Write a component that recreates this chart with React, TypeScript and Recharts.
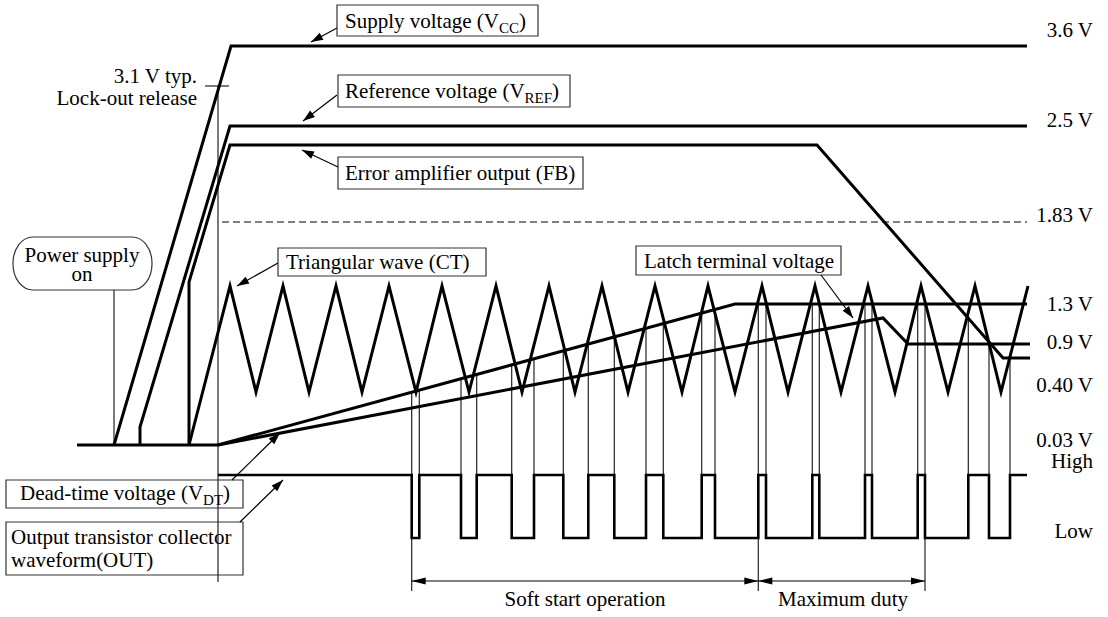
import { ComposedChart, Line, XAxis, YAxis, ReferenceLine, ReferenceArea, ReferenceDot } from "recharts";

const FONT = '"Liberation Serif", "Times New Roman", serif';

// Timing diagram: t = position along the time axis, v = level on the drawing (top = 0)
const groundT = [77, 218];
const groundV = [445, 445];

const vccT = [114, 231, 1027];
const vccV = [445, 46, 46];

const vrefT = [140, 140, 230, 1027];
const vrefV = [445, 427, 126, 126];

const fbT = [189, 189, 230, 817, 1003, 1030];
const fbV = [445, 282, 145, 145, 358, 358];

const ctT = [189, 230, 256, 283, 309, 336, 362, 389, 416, 442, 469, 496, 522, 549, 575, 602, 628, 655, 682, 708, 735, 762, 788, 815, 841, 868, 895, 921, 948, 975, 1001, 1028];
const ctV = [445, 286, 392, 286, 392, 286, 392, 286, 392, 286, 392, 286, 392, 286, 392, 286, 392, 286, 392, 286, 392, 286, 392, 286, 392, 286, 392, 286, 392, 286, 392, 286];

const dtT = [218, 735, 1027];
const dtV = [445, 304, 304];

const latchT = [218, 883, 908, 1030];
const latchV = [445, 318, 344, 344];

const outT = [218, 411.7, 419.3, 461, 476.7, 511.7, 534, 563.3, 588.3, 614.3, 646, 663.3, 701.7, 715, 758.3, 766, 812.3, 819.3, 865, 872, 917.7, 925, 968.3, 989, 1010, 1027];
const outState = ["H", "L", "H", "L", "H", "L", "H", "L", "H", "L", "H", "L", "H", "L", "H", "L", "H", "L", "H", "L", "H", "L", "H", "L", "H", "H"];
const outLevel: Record<string, number> = { H: 475, L: 538 };
// where each switching edge meets the compared voltage
const edgeTop = [392, 390, 379, 375, 365, 359, 351, 345, 338, 329, 324, 314, 310, 304, 304, 304, 304, 304, 304, 304, 304, 318, 342, 358];
const markerEdges = [411.7, 758.3, 925];

const levelLabels = ["3.6 V", "2.5 V", "1.83 V", "1.3 V", "0.9 V", "0.40 V", "0.03 V", "High", "Low"];
const levelLabelV = [37, 127, 222, 311, 349, 392, 447, 468, 538];

const pts = (t: number[], v: number[]) => t.map((x, i) => ({ x, y: v[i] }));

function arrowShape(both: boolean, head = 12, half = 4) {
  return (p: any) => {
    const { x1, y1, x2, y2 } = p;
    const a = Math.atan2(y2 - y1, x2 - x1);
    const tip = (x: number, y: number, ang: number) => {
      const bx = x - head * Math.cos(ang);
      const by = y - head * Math.sin(ang);
      const nx = -Math.sin(ang) * half;
      const ny = Math.cos(ang) * half;
      return `${x},${y} ${bx + nx},${by + ny} ${bx - nx},${by - ny}`;
    };
    return (
      <g>
        <line x1={x1} y1={y1} x2={x2} y2={y2} stroke="#000" strokeWidth={1.2} />
        <polygon points={tip(x2, y2, a)} fill="#000" />
        {both && <polygon points={tip(x1, y1, a + Math.PI)} fill="#000" />}
      </g>
    );
  };
}

const txt = { fontFamily: FONT, fontSize: 21, fill: "#000" };

function Sub({ main, sub }: { main: string; sub: string }) {
  return (
    <>
      <tspan>{main}</tspan>
      <tspan fontSize={15} dy={5}>{sub}</tspan>
      <tspan dy={-5}>)</tspan>
    </>
  );
}

export default function App() {
  const thick = { stroke: "#000", strokeWidth: 3, dot: false, activeDot: false, isAnimationActive: false, strokeLinejoin: "miter" as const, strokeMiterlimit: 10 };
  const thin = { stroke: "#222", strokeWidth: 1.2 };

  const note = (x: number, y: number, content: any, anchor: "start" | "middle" | "end" = "start") => (
    <ReferenceDot
      key={`n-${x}-${y}`}
      x={x}
      y={y}
      r={0}
      shape={(p: any) => (
        <text x={p.cx} y={p.cy} textAnchor={anchor} {...txt}>
          {content}
        </text>
      )}
    />
  );

  const box = (x1: number, x2: number, y1: number, y2: number) => (
    <ReferenceArea key={`b-${x1}-${y1}`} x1={x1} x2={x2} y1={y1} y2={y2} fill="#fff" fillOpacity={1} stroke="#333" strokeWidth={1.2} />
  );

  const callout = (a: number[], b: number[]) => (
    <ReferenceLine key={`c-${a[0]}-${a[1]}`} segment={[{ x: a[0], y: a[1] }, { x: b[0], y: b[1] }]} shape={arrowShape(false)} />
  );

  return (
    <div style={{ position: "absolute", left: 0, top: 0, width: 1108, height: 617, background: "#fff" }}>
      <ComposedChart width={1108} height={617} margin={{ top: 0, right: 0, bottom: 0, left: 0 }}>
        <XAxis type="number" dataKey="x" domain={[0, 1108]} allowDataOverflow hide />
        <YAxis type="number" dataKey="y" domain={[0, 617]} reversed allowDataOverflow hide />

        {/* label boxes */}
        {box(337, 538, 5, 36)}
        {box(338, 570, 75, 107)}
        {box(338, 583, 157, 189)}
        {box(278, 486, 248, 276)}
        {box(636, 841, 246, 275)}
        {box(6, 243, 480, 508)}
        {box(6, 243, 522, 575)}
        <ReferenceArea
          x1={13}
          x2={152}
          y1={237}
          y2={290}
          shape={(p: any) => (
            <rect x={p.x} y={p.y} width={p.width} height={p.height} rx={20} ry={26} fill="#fff" stroke="#333" strokeWidth={1.2} />
          )}
        />

        {/* guide lines */}
        <ReferenceLine segment={[{ x: 218, y: 86 }, { x: 218, y: 582 }]} {...thin} />
        <ReferenceLine segment={[{ x: 205, y: 86 }, { x: 229, y: 86 }]} {...thin} />
        <ReferenceLine segment={[{ x: 114, y: 290 }, { x: 114, y: 445 }]} {...thin} />
        <ReferenceLine segment={[{ x: 222, y: 222 }, { x: 1027, y: 222 }]} stroke="#000" strokeWidth={1.2} strokeDasharray="7 4" />
        {edgeTop.map((top, i) => {
          const x = outT[i + 1];
          const bottom = markerEdges.includes(x) ? 591 : outLevel.H;
          return <ReferenceLine key={`e-${i}`} segment={[{ x, y: top }, { x, y: bottom }]} {...thin} />;
        })}

        {/* waveforms */}
        <Line data={pts(groundT, groundV)} dataKey="y" {...thick} />
        <Line data={pts(vccT, vccV)} dataKey="y" {...thick} />
        <Line data={pts(vrefT, vrefV)} dataKey="y" {...thick} />
        <Line data={pts(fbT, fbV)} dataKey="y" {...thick} />
        <Line data={pts(ctT, ctV)} dataKey="y" {...thick} />
        <Line data={pts(dtT, dtV)} dataKey="y" {...thick} />
        <Line data={pts(latchT, latchV)} dataKey="y" {...thick} />
        <Line data={outT.map((x, i) => ({ x, y: outLevel[outState[i]] }))} dataKey="y" type="stepAfter" {...thick} strokeWidth={2.6} />

        {/* callout arrows */}
        {callout([337, 28], [311, 42])}
        {callout([337, 95], [303, 121])}
        {callout([338, 167], [302, 150])}
        {callout([278, 263], [237, 286])}
        {callout([821, 275], [853, 318])}
        {callout([232, 480], [280, 433])}
        {callout([240, 522], [283, 480])}

        {/* duration arrows */}
        <ReferenceLine segment={[{ x: 411.7, y: 581 }, { x: 758.3, y: 581 }]} shape={arrowShape(true, 14, 3.5)} />
        <ReferenceLine segment={[{ x: 758.3, y: 581 }, { x: 925, y: 581 }]} shape={arrowShape(true, 14, 3.5)} />

        {/* texts */}
        {note(345, 28, <Sub main="Supply voltage (V" sub="CC" />)}
        {note(345, 98, <Sub main="Reference voltage (V" sub="REF" />)}
        {note(345, 180, "Error amplifier output (FB)")}
        {note(286, 269, "Triangular wave (CT)")}
        {note(644, 268, "Latch terminal voltage")}
        {note(20, 500, <Sub main="Dead-time voltage (V" sub="DT" />)}
        {note(11, 544, "Output transistor collector")}
        {note(11, 567, "waveform(OUT)")}
        {note(82, 262, "Power supply", "middle")}
        {note(82, 281, "on", "middle")}
        {note(197, 83, "3.1 V typ.", "end")}
        {note(197, 105, "Lock-out release", "end")}
        {note(585, 606, "Soft start operation", "middle")}
        {note(843, 606, "Maximum duty", "middle")}
        {levelLabels.map((l, i) => note(1093, levelLabelV[i], l, "end"))}
      </ComposedChart>
    </div>
  );
}
